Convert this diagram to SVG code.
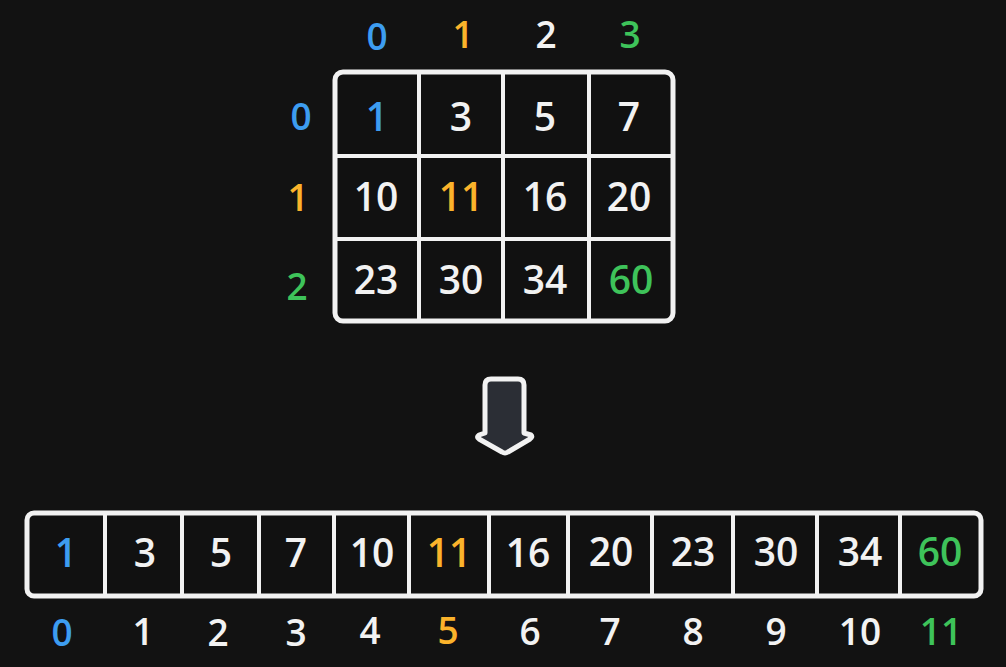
<svg xmlns="http://www.w3.org/2000/svg" width="1006" height="667" viewBox="0 0 1006 667">
<style>
text{font-family:"Open Sans","Noto Sans",sans-serif;font-weight:600;text-anchor:middle}
.v{font-size:39px;fill:#f2f2f2}
.l{font-size:37px}
.w{fill:#f2f2f2}
.b{fill:#3d9df0}
.o{fill:#fbb32b}
.g{fill:#3ec35a}
.frame{fill:#111111;stroke:#f2f2f2;stroke-width:5}
.div{stroke:#f2f2f2;stroke-width:4;fill:none}
.arrow{fill:#2b2e35;stroke:#f2f2f2;stroke-width:5;stroke-linejoin:round}
</style>
<rect width="1006" height="667" fill="#121212"/>

<g id="matrix">
<rect class="frame" x="335" y="72" width="338" height="249" rx="8"/>
<path class="div" d="M419 72V321M503 72V321M589 72V321M335 156H673M335 239H673"/>
<text class="v b" x="377" y="131">1</text>
<text class="v" x="461" y="131">3</text>
<text class="v" x="545" y="131">5</text>
<text class="v" x="629" y="131">7</text>
<text class="v" x="376" y="211">10</text>
<text class="v o" x="461" y="211">11</text>
<text class="v" x="545" y="211">16</text>
<text class="v" x="629" y="211">20</text>
<text class="v" x="376" y="294">23</text>
<text class="v" x="461" y="294">30</text>
<text class="v" x="545" y="294">34</text>
<text class="v g" x="631" y="294">60</text>
</g>

<g id="col-labels">
<text class="l b" x="377" y="50">0</text>
<text class="l o" x="463" y="48">1</text>
<text class="l w" x="546" y="48">2</text>
<text class="l g" x="630" y="48">3</text>
</g>

<g id="row-labels">
<text class="l b" x="301" y="130">0</text>
<text class="l o" x="298" y="211">1</text>
<text class="l g" x="297" y="300">2</text>
</g>

<g id="connectors">
<path class="arrow" d="M485 385Q485 379 491 379H518Q524 379 524 385V433L531 435Q533 437 530 439L508 452Q505 454 502 452L479 439Q476 437 479 435L485 433Z"/>
</g>

<g id="array">
<rect class="frame" x="27" y="513" width="954" height="83" rx="7"/>
<path class="div" d="M105 513V596M182 513V596M259 513V596M334 513V596M409 513V596M489 513V596M568 513V596M652 513V596M733 513V596M817 513V596M900 513V596"/>
<text class="v b" x="66" y="567">1</text>
<text class="v" x="145" y="567">3</text>
<text class="v" x="221" y="567">5</text>
<text class="v" x="296" y="567">7</text>
<text class="v" x="372" y="567">10</text>
<text class="v o" x="449" y="567">11</text>
<text class="v" x="528" y="567">16</text>
<text class="v" x="611" y="566">20</text>
<text class="v" x="693" y="566">23</text>
<text class="v" x="776" y="566">30</text>
<text class="v" x="860" y="566">34</text>
<text class="v g" x="940" y="566">60</text>
</g>

<g id="index-labels">
<text class="l b" x="62" y="646">0</text>
<text class="l w" x="143" y="645">1</text>
<text class="l w" x="218" y="646">2</text>
<text class="l w" x="296" y="646">3</text>
<text class="l w" x="370" y="644">4</text>
<text class="l o" x="448" y="644">5</text>
<text class="l w" x="530" y="645">6</text>
<text class="l w" x="610" y="645">7</text>
<text class="l w" x="693" y="645">8</text>
<text class="l w" x="776" y="645">9</text>
<text class="l w" x="860" y="645">10</text>
<text class="l g" x="941" y="645">11</text>
</g>
</svg>
